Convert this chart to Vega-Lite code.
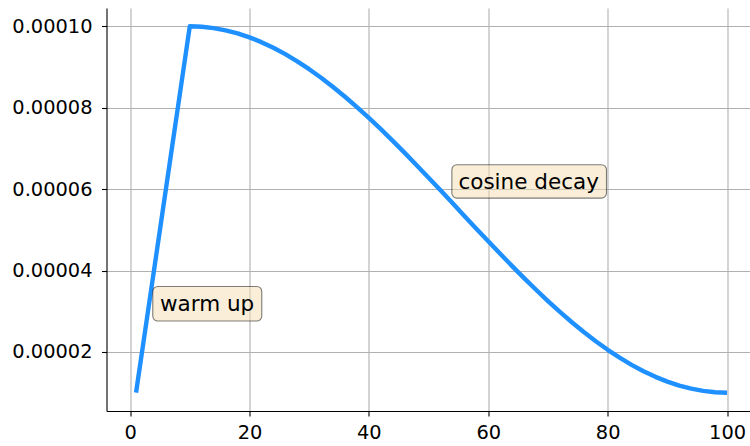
{
  "$schema": "https://vega.github.io/schema/vega-lite/v6.json",
  "autosize": "none",
  "width": 643.5,
  "height": 403,
  "padding": {"left": 106.5, "top": 8, "right": 0, "bottom": 35},
  "background": "white",
  "config": {
    "view": {"stroke": null},
    "font": "DejaVu Sans",
    "axis": {
      "labelFont": "DejaVu Sans",
      "labelFontSize": 19.4,
      "labelColor": "black",
      "tickColor": "black",
      "tickSize": 5,
      "tickWidth": 1.1,
      "domainColor": "black",
      "domainWidth": 1.1,
      "gridColor": "#b0b0b0",
      "gridWidth": 1.1,
      "gridOpacity": 1,
      "title": null,
      "labelPadding": 7
    }
  },
  "datasets": {
    "lr": [
      {"step": 1, "lr": 1e-5},
      {"step": 2, "lr": 2e-5},
      {"step": 3, "lr": 3e-5},
      {"step": 4, "lr": 4e-5},
      {"step": 5, "lr": 5e-5},
      {"step": 6, "lr": 6e-5},
      {"step": 7, "lr": 7e-5},
      {"step": 8, "lr": 8e-5},
      {"step": 9, "lr": 9e-5},
      {"step": 10, "lr": 10e-5},
      {"step": 12, "lr": 9.98904e-5},
      {"step": 14, "lr": 9.95621e-5},
      {"step": 16, "lr": 9.90167e-5},
      {"step": 18, "lr": 9.82568e-5},
      {"step": 20, "lr": 9.72862e-5},
      {"step": 22, "lr": 9.61095e-5},
      {"step": 24, "lr": 9.47327e-5},
      {"step": 26, "lr": 9.31622e-5},
      {"step": 28, "lr": 9.14058e-5},
      {"step": 30, "lr": 8.94720e-5},
      {"step": 32, "lr": 8.73703e-5},
      {"step": 34, "lr": 8.51109e-5},
      {"step": 36, "lr": 8.27047e-5},
      {"step": 38, "lr": 8.01637e-5},
      {"step": 40, "lr": 7.75e-5},
      {"step": 42, "lr": 7.47267e-5},
      {"step": 44, "lr": 7.18573e-5},
      {"step": 46, "lr": 6.89058e-5},
      {"step": 48, "lr": 6.58865e-5},
      {"step": 50, "lr": 6.28142e-5},
      {"step": 52, "lr": 5.97038e-5},
      {"step": 54, "lr": 5.65705e-5},
      {"step": 56, "lr": 5.34295e-5},
      {"step": 58, "lr": 5.02962e-5},
      {"step": 60, "lr": 4.71858e-5},
      {"step": 62, "lr": 4.41135e-5},
      {"step": 64, "lr": 4.10942e-5},
      {"step": 66, "lr": 3.81427e-5},
      {"step": 68, "lr": 3.52733e-5},
      {"step": 70, "lr": 3.25e-5},
      {"step": 72, "lr": 2.98363e-5},
      {"step": 74, "lr": 2.72953e-5},
      {"step": 76, "lr": 2.48891e-5},
      {"step": 78, "lr": 2.26297e-5},
      {"step": 80, "lr": 2.05280e-5},
      {"step": 82, "lr": 1.85942e-5},
      {"step": 84, "lr": 1.68378e-5},
      {"step": 86, "lr": 1.52673e-5},
      {"step": 88, "lr": 1.38905e-5},
      {"step": 90, "lr": 1.27138e-5},
      {"step": 92, "lr": 1.17432e-5},
      {"step": 94, "lr": 1.09833e-5},
      {"step": 96, "lr": 1.04379e-5},
      {"step": 98, "lr": 1.01096e-5},
      {"step": 100, "lr": 1e-5}
    ],
    "notes": [
      {"label": "warm up", "x": 5, "y": 3e-5, "bx1": 3.8, "bx2": 22.06, "by1": 2.76e-5, "by2": 3.61e-5},
      {"label": "cosine decay", "x": 55, "y": 6e-5, "bx1": 53.9, "bx2": 79.8, "by1": 5.78e-5, "by2": 6.60e-5}
    ]
  },
  "layer": [
    {
      "data": {"name": "lr"},
      "mark": {"type": "line", "color": "#1e90ff", "strokeWidth": 4.4, "strokeCap": "butt", "strokeJoin": "round", "clip": true},
      "encoding": {
        "x": {
          "field": "step", "type": "quantitative",
          "scale": {"domain": [-3.95, 103.84], "nice": false, "zero": false},
          "axis": {"values": [0, 20, 40, 60, 80, 100], "format": "d", "grid": true}
        },
        "y": {
          "field": "lr", "type": "quantitative",
          "scale": {"domain": [5.5e-6, 1.045e-4], "nice": false, "zero": false},
          "axis": {"values": [2e-5, 4e-5, 6e-5, 8e-5, 1e-4], "format": ".5f", "grid": true, "labelPadding": 9.5}
        }
      }
    },
    {
      "data": {"name": "notes"},
      "mark": {"type": "rect", "fill": "wheat", "fillOpacity": 0.5, "stroke": "black", "strokeOpacity": 0.5, "strokeWidth": 1.1, "cornerRadius": 5},
      "encoding": {
        "x": {"field": "bx1", "type": "quantitative"},
        "x2": {"field": "bx2"},
        "y": {"field": "by1", "type": "quantitative"},
        "y2": {"field": "by2"}
      }
    },
    {
      "data": {"name": "notes"},
      "mark": {"type": "text", "align": "left", "baseline": "alphabetic", "fontSize": 21.5, "font": "DejaVu Sans", "color": "black"},
      "encoding": {
        "x": {"field": "x", "type": "quantitative"},
        "y": {"field": "y", "type": "quantitative"},
        "text": {"field": "label"}
      }
    },
    {
      "mark": {"type": "rule", "color": "black", "strokeWidth": 1.1},
      "encoding": {"y": {"datum": 1.045e-4}}
    }
  ]
}
